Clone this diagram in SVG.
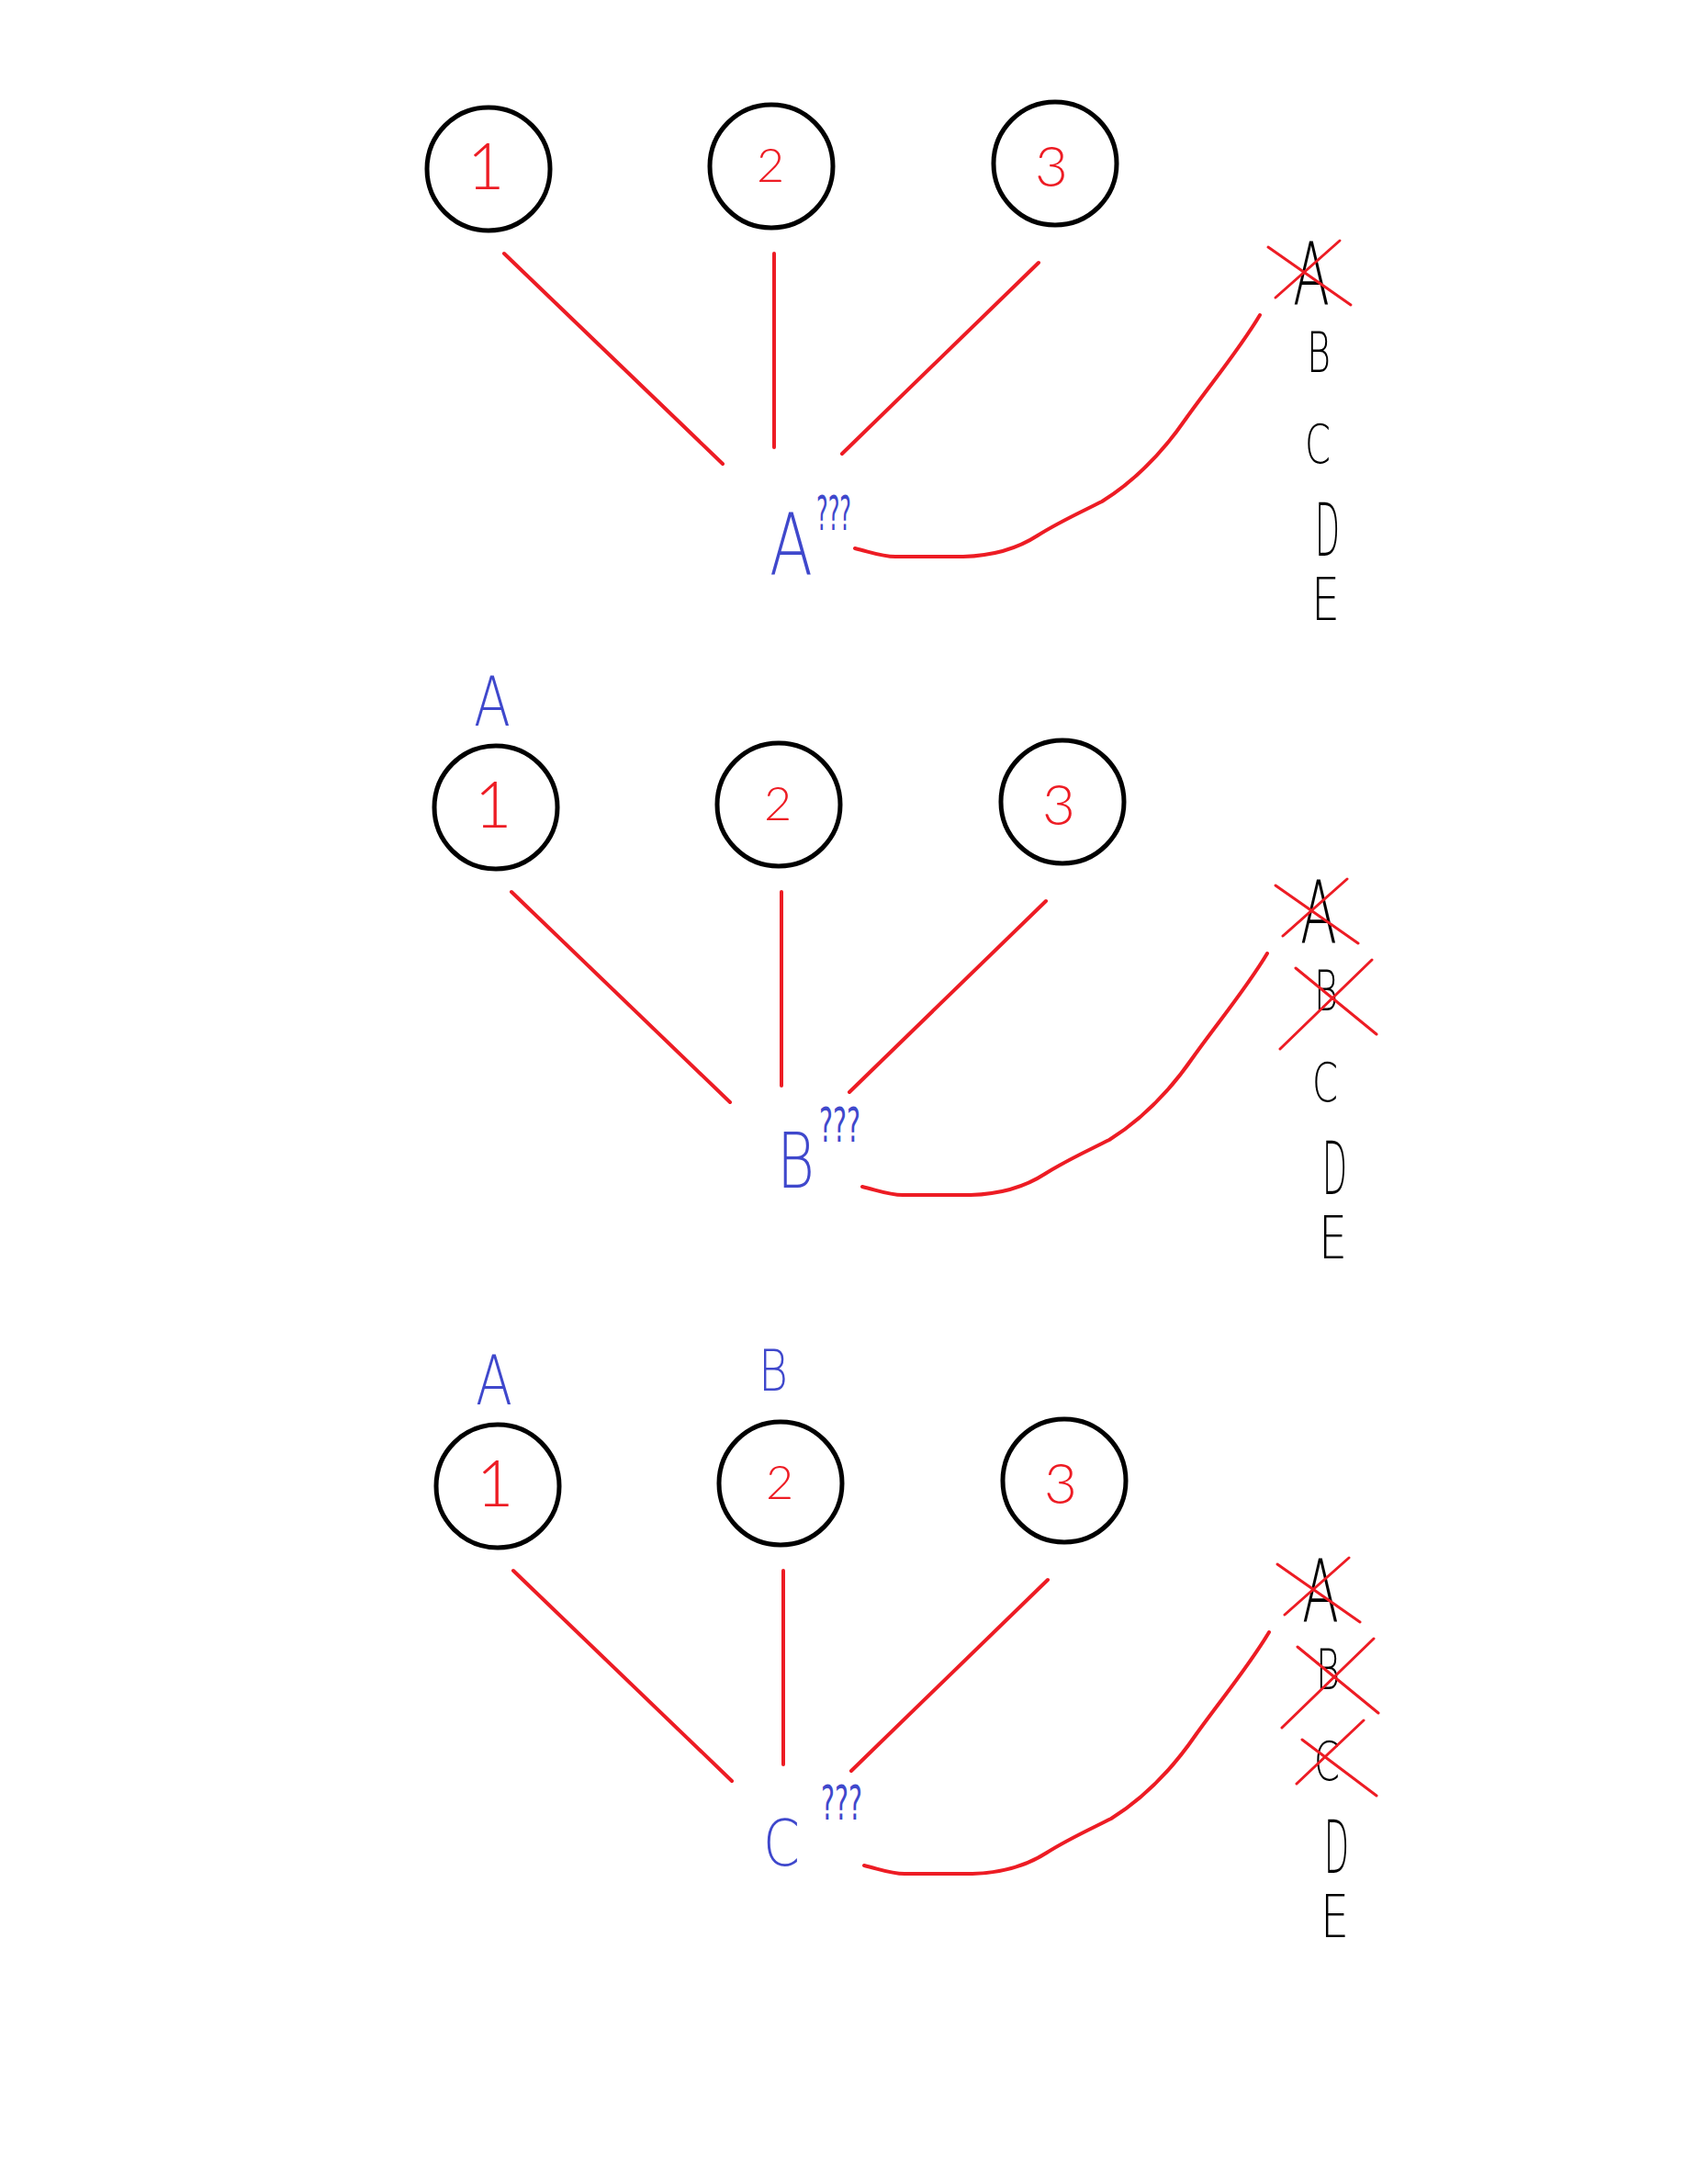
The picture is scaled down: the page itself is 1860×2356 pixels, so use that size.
<svg xmlns="http://www.w3.org/2000/svg" width="1860" height="2356" viewBox="0 0 1860 2356">
<style>
text{font-family:"DejaVu Sans","Liberation Sans",sans-serif;font-weight:200}
.ring{fill:none;stroke:#000;stroke-width:5}
.num{fill:#ed1c24;text-anchor:middle;font-family:Lato,"Liberation Sans",sans-serif;font-weight:300}
.blue{fill:#3f48cc}
.q{fill:#3f48cc;font-weight:400}
.blk{fill:#000}
.edge{fill:none;stroke:#ed1c24;stroke-width:4;stroke-linecap:round;stroke-linejoin:round}
.xm{fill:none;stroke:#ed1c24;stroke-width:3;stroke-linecap:round}
</style>
<rect width="1860" height="2356" fill="#fff"/>

<g id="connectors">
<g id="edges-p1">
<line class="edge" x1="549" y1="276" x2="787" y2="505"/>
<line class="edge" x1="843" y1="276" x2="843" y2="487"/>
<line class="edge" x1="1131" y1="286" x2="917" y2="494"/>
<path class="edge" d="M931,597 C948,601 960,606 975,606 L1049,606 C1085,605 1110,596 1130,583 C1152,569 1172,560 1200,546 C1240,521 1270,487 1292,455 C1320,416 1350,380 1372,343"/>
</g>
<g id="edges-p2" transform="translate(8,695)">
<line class="edge" x1="549" y1="276" x2="787" y2="505"/>
<line class="edge" x1="843" y1="276" x2="843" y2="487"/>
<line class="edge" x1="1131" y1="286" x2="917" y2="494"/>
<path class="edge" d="M931,597 C948,601 960,606 975,606 L1049,606 C1085,605 1110,596 1130,583 C1152,569 1172,560 1200,546 C1240,521 1270,487 1292,455 C1320,416 1350,380 1372,343"/>
</g>
<g id="edges-p3" transform="translate(10,1434)">
<line class="edge" x1="549" y1="276" x2="787" y2="505"/>
<line class="edge" x1="843" y1="276" x2="843" y2="487"/>
<line class="edge" x1="1131" y1="286" x2="917" y2="494"/>
<path class="edge" d="M931,597 C948,601 960,606 975,606 L1049,606 C1085,605 1110,596 1130,583 C1152,569 1172,560 1200,546 C1240,521 1270,487 1292,455 C1320,416 1350,380 1372,343"/>
</g>
</g>

<!-- panel 1 -->
<g id="p1-node1"><circle class="ring" cx="532" cy="184" r="67"/><text class="num" x="529" y="206" font-size="70">1</text></g>
<g id="p1-node2"><circle class="ring" cx="840" cy="181" r="67"/><text class="num" x="839" y="198" font-size="52">2</text></g>
<g id="p1-node3"><circle class="ring" cx="1149" cy="178" r="67"/><text class="num" x="1145" y="203" font-size="62">3</text></g>
<g id="p1-target"><text class="blue" x="838" y="625" font-size="92" textLength="47" lengthAdjust="spacingAndGlyphs">A</text><text class="q" x="889" y="577" font-size="52" textLength="38" lengthAdjust="spacingAndGlyphs">???</text></g>
<g id="p1-list">
<text class="blk" x="1408" y="332" font-size="94" textLength="40" lengthAdjust="spacingAndGlyphs">A</text>
<text class="blk" x="1423" y="405" font-size="60" textLength="26" lengthAdjust="spacingAndGlyphs">B</text>
<text class="blk" x="1421" y="504" font-size="58" textLength="28" lengthAdjust="spacingAndGlyphs">C</text>
<text class="blk" x="1432" y="605" font-size="80" textLength="27" lengthAdjust="spacingAndGlyphs">D</text>
<text class="blk" x="1428" y="675" font-size="64" textLength="31" lengthAdjust="spacingAndGlyphs">E</text>
<path class="xm" d="M1381,269 L1471,332 M1459,262 L1389,324"/>
</g>

<!-- panel 2 -->
<g transform="translate(8,695)">
<g id="p2-node1"><circle class="ring" cx="532" cy="184" r="67"/><text class="num" x="529" y="206" font-size="70">1</text><text class="blue" x="508" y="95" font-size="74" textLength="40" lengthAdjust="spacingAndGlyphs">A</text></g>
<g id="p2-node2"><circle class="ring" cx="840" cy="181" r="67"/><text class="num" x="839" y="198" font-size="52">2</text></g>
<g id="p2-node3"><circle class="ring" cx="1149" cy="178" r="67"/><text class="num" x="1145" y="203" font-size="62">3</text></g>
<g id="p2-target"><text class="blue" x="838" y="598" font-size="84" textLength="41" lengthAdjust="spacingAndGlyphs">B</text><text class="q" x="884" y="548" font-size="52" textLength="45" lengthAdjust="spacingAndGlyphs">???</text></g>
<g id="p2-list">
<text class="blk" x="1408" y="332" font-size="94" textLength="40" lengthAdjust="spacingAndGlyphs">A</text>
<text class="blk" x="1423" y="405" font-size="60" textLength="26" lengthAdjust="spacingAndGlyphs">B</text>
<text class="blk" x="1421" y="504" font-size="58" textLength="28" lengthAdjust="spacingAndGlyphs">C</text>
<text class="blk" x="1432" y="605" font-size="80" textLength="27" lengthAdjust="spacingAndGlyphs">D</text>
<text class="blk" x="1428" y="675" font-size="64" textLength="31" lengthAdjust="spacingAndGlyphs">E</text>
<path class="xm" d="M1381,269 L1471,332 M1459,262 L1389,324 M1403,359 L1491,431 M1486,350 L1386,447"/>
</g>
</g>

<!-- panel 3 -->
<g transform="translate(10,1434)">
<g id="p3-node1"><circle class="ring" cx="532" cy="184" r="67"/><text class="num" x="529" y="206" font-size="70">1</text><text class="blue" x="508" y="95" font-size="74" textLength="40" lengthAdjust="spacingAndGlyphs">A</text></g>
<g id="p3-node2"><circle class="ring" cx="840" cy="181" r="67"/><text class="num" x="839" y="198" font-size="52">2</text><text class="blue" x="816" y="80" font-size="63" textLength="32" lengthAdjust="spacingAndGlyphs">B</text></g>
<g id="p3-node3"><circle class="ring" cx="1149" cy="178" r="67"/><text class="num" x="1145" y="203" font-size="62">3</text></g>
<g id="p3-target"><text class="blue" x="821" y="597" font-size="70" textLength="40" lengthAdjust="spacingAndGlyphs">C</text><text class="q" x="884" y="547" font-size="52" textLength="45" lengthAdjust="spacingAndGlyphs">???</text></g>
<g id="p3-list">
<text class="blk" x="1408" y="332" font-size="94" textLength="40" lengthAdjust="spacingAndGlyphs">A</text>
<text class="blk" x="1423" y="405" font-size="60" textLength="26" lengthAdjust="spacingAndGlyphs">B</text>
<text class="blk" x="1421" y="504" font-size="58" textLength="28" lengthAdjust="spacingAndGlyphs">C</text>
<text class="blk" x="1432" y="605" font-size="80" textLength="27" lengthAdjust="spacingAndGlyphs">D</text>
<text class="blk" x="1428" y="675" font-size="64" textLength="31" lengthAdjust="spacingAndGlyphs">E</text>
<path class="xm" d="M1381,269 L1471,332 M1459,262 L1389,324 M1403,359 L1491,431 M1486,350 L1386,447 M1408,460 L1489,521 M1475,439 L1402,508"/>
</g>
</g>
</svg>
